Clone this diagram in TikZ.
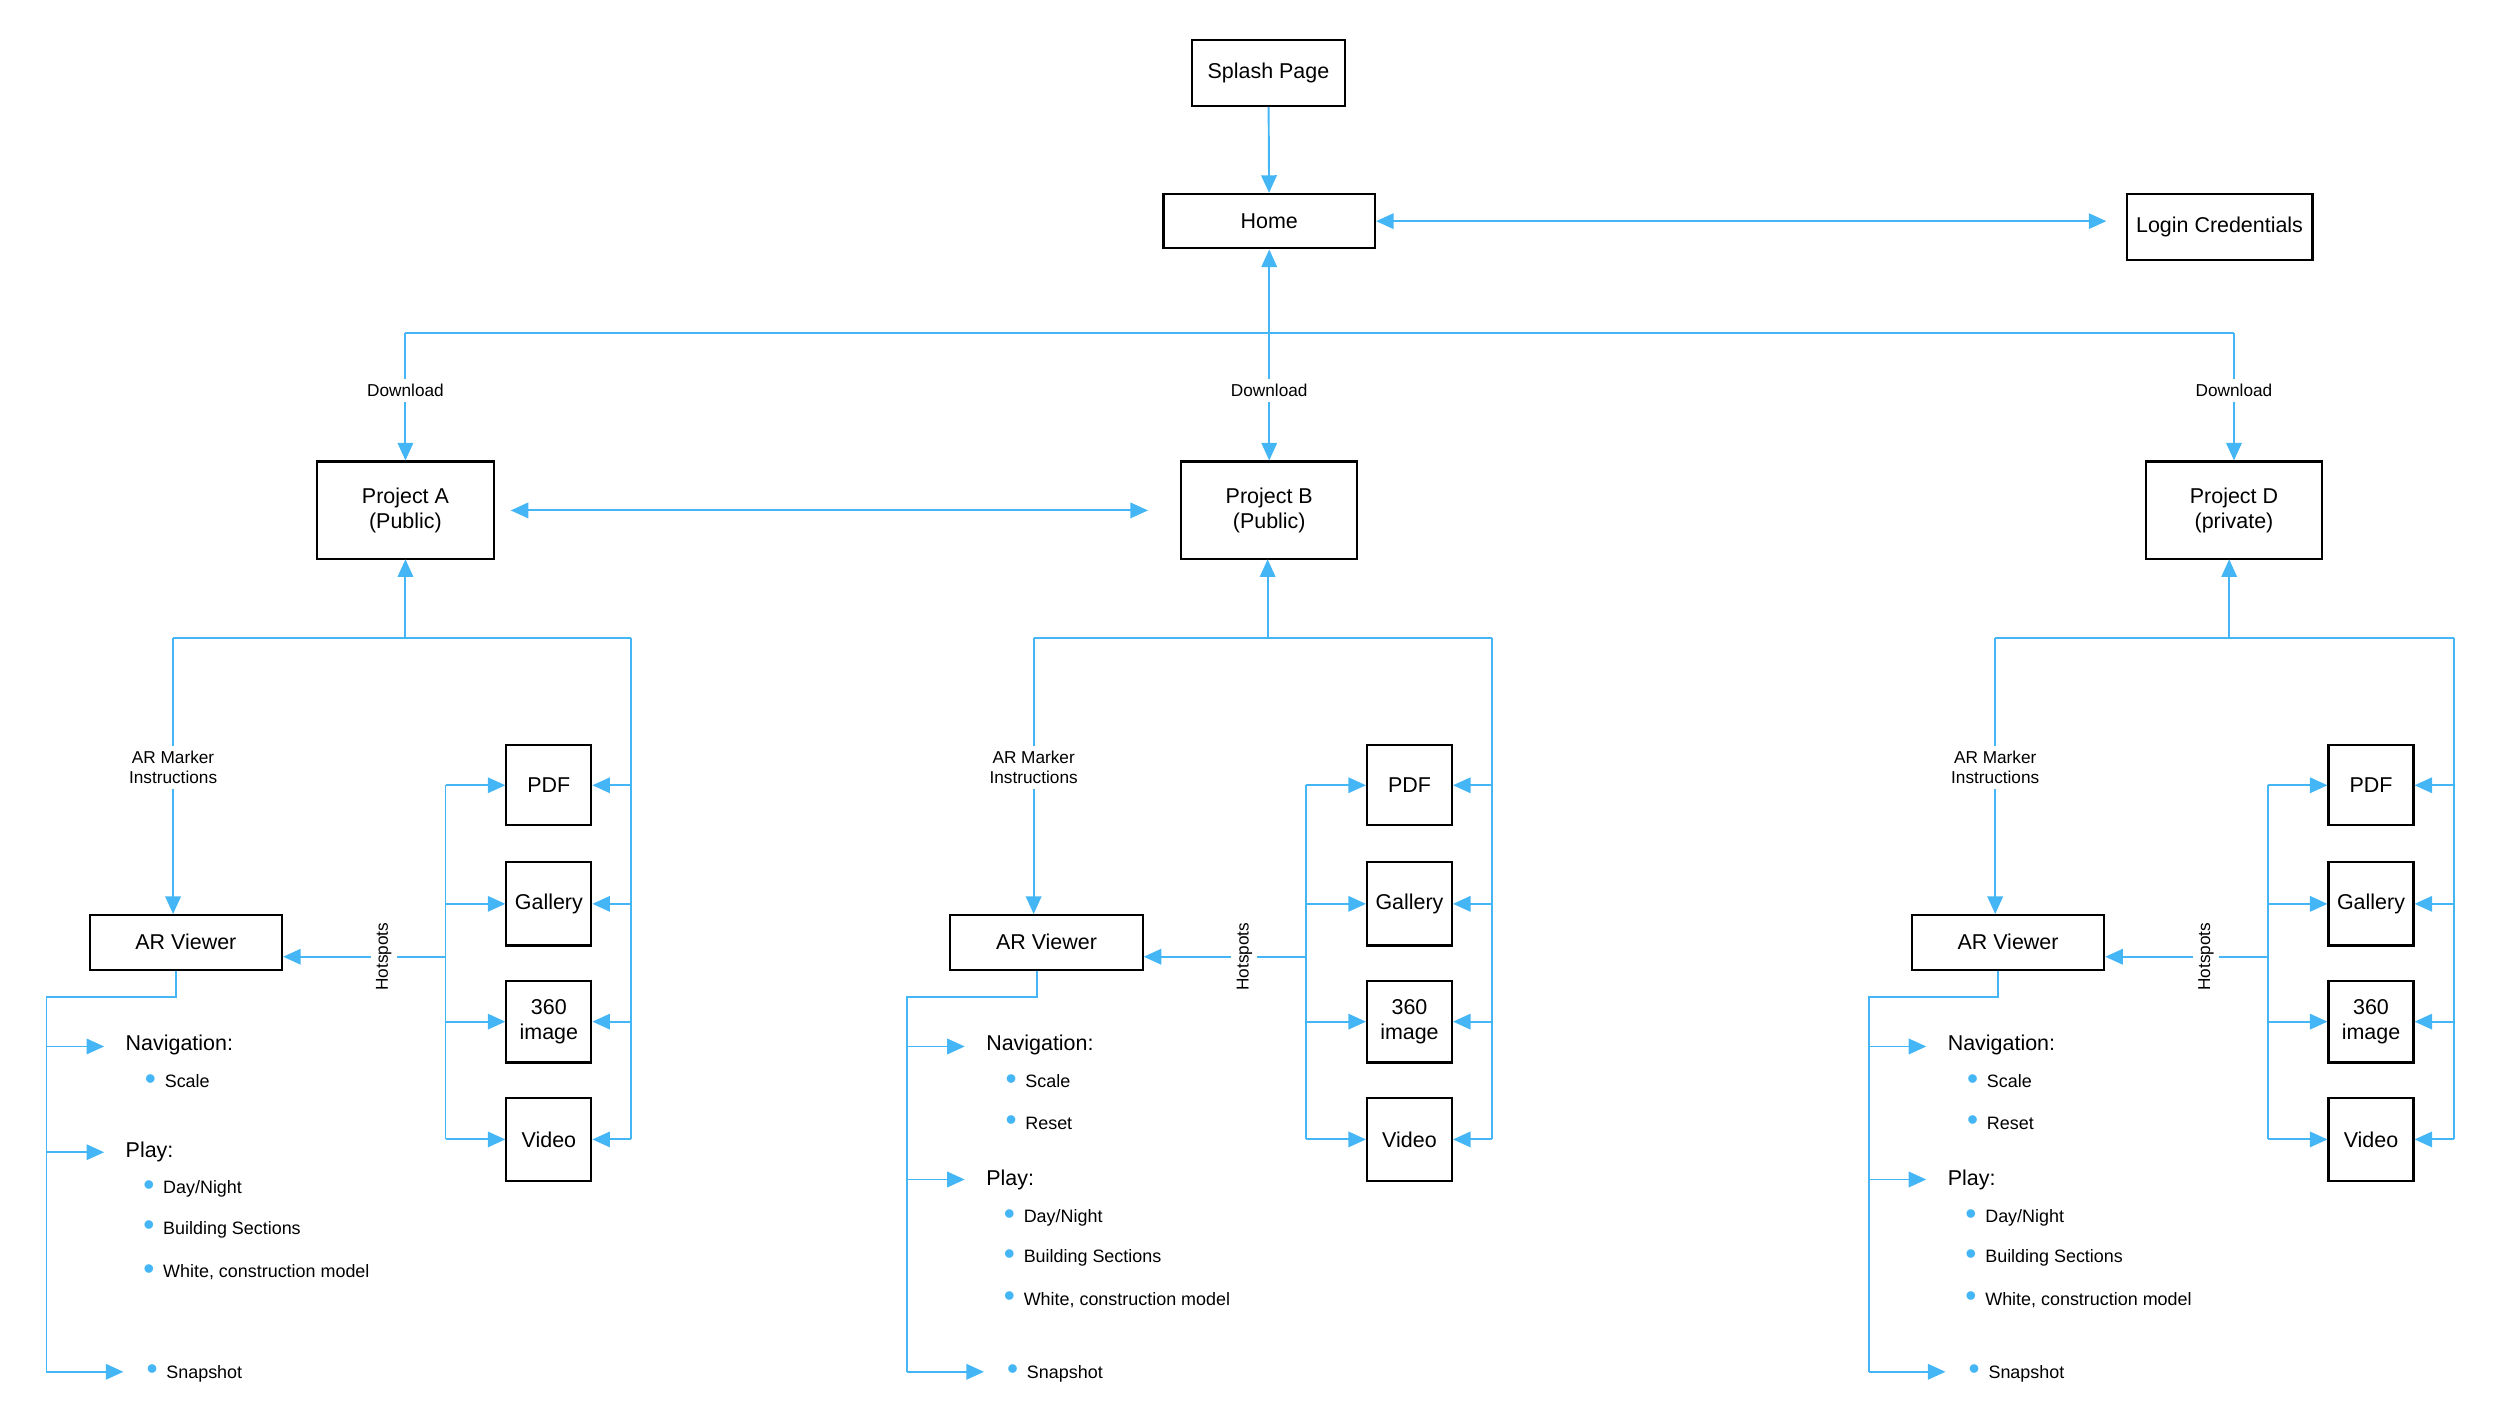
\documentclass[tikz,border=0pt]{standalone}
\usepackage{fontspec}
\setmainfont{Liberation Sans}
\usetikzlibrary{arrows.meta}
\definecolor{arblue}{HTML}{45B6F5}
\newcommand\pxl{0.016026cm}
\newcommand\bul{\raisebox{-0.4pt}{\color{arblue}\fontsize{9}{9}\selectfont\textbullet}\hspace{2.5pt}}

\tikzset{
  box/.style={draw=black, line width=0.6pt, align=center, inner sep=0pt, font=\fontsize{6.1}{7.3}\selectfont},
  link/.style={draw=arblue, line width=0.55pt, -{Triangle[length=5pt,width=4.4pt]}},
  dlink/.style={link, {Triangle[length=5pt,width=4.4pt]}-{Triangle[length=5pt,width=4.4pt]}},
  line/.style={draw=arblue, line width=0.55pt},
  lbl/.style={fill=white, inner sep=1.5pt, align=center, font=\fontsize{4.9}{5.6}\selectfont},
  head/.style={anchor=west, inner sep=0pt, font=\fontsize{6.1}{7}\selectfont},
  item/.style={anchor=west, inner sep=0pt, font=\fontsize{5.1}{6}\selectfont}
}

% viewer, media boxes and their connectors for one project
\newcommand\argroup[3]{%
  \begin{scope}[shift={(#2,0)}]
    \node[box, minimum width={120*\pxl}, minimum height={34*\pxl}] (#1view) at (116,588) {AR Viewer};
    \node[box, minimum width={53*\pxl}, minimum height={50*\pxl}] (#1pdf) at (342.5,490) {PDF};
    \node[box, minimum width={53*\pxl}, minimum height={52*\pxl}] (#1gal) at (342.5,564) {Gallery};
    \node[box, minimum width={53*\pxl}, minimum height={51*\pxl}] (#1img) at (342.5,637.5) {360\\image};
    \node[box, minimum width={53*\pxl}, minimum height={52*\pxl}] (#1vid) at (342.5,711) {Video};
    \coordinate (#1bus) at (#3,398);
    \coordinate (#1left) at (108,398);
    \coordinate (#1right) at (394,398);
    \coordinate (#1hot) at (278,597);
    \coordinate (#1trunk) at (29,622);
    % up to the project
    \draw[line] (#1left) -- (#1right);
    \draw[link] (#1bus) -- (#1bus |- 0,349);
    \draw[link] (#1left) -- node[lbl, pos=0.47] {AR Marker\\Instructions} (#1view.north -| #1left);
    \draw[line] (#1right) -- (394,711);
    \foreach \m in {pdf,gal,img,vid}
      \draw[link] (#1right |- #1\m) -- (#1\m.east);
    % hotspots
    \draw[line] (278,490) -- (278,711);
    \foreach \m in {pdf,gal,img,vid}
      \draw[link] (#1hot |- #1\m) -- (#1\m.west);
    \draw[link] (#1hot) -- node[lbl, rotate=90, pos=0.38] {Hotspots} (#1view.east |- #1hot);
    % viewer functions
    \draw[line] ([xshift={-6*\pxl}]#1view.south) |- (#1trunk) -- (29,856);
  \end{scope}}

\begin{document}
\begin{tikzpicture}[x=\pxl, y=-\pxl]
\useasboundingbox (0,0) rectangle (1560,887.3);

\node[box, minimum width={95*\pxl}, minimum height={41*\pxl}] (splash) at (791.5,45.5) {Splash Page};
\node[box, minimum width={132*\pxl}, minimum height={34*\pxl}] (home) at (792,138) {Home};
\node[box, minimum width={116*\pxl}, minimum height={41*\pxl}] (login) at (1385,141.5) {Login Credentials};
\node[box, minimum width={110*\pxl}, minimum height={61*\pxl}] (projA) at (253,318.5) {Project A\\(Public)};
\node[box, minimum width={110*\pxl}, minimum height={61*\pxl}] (projB) at (792,318.5) {Project B\\(Public)};
\node[box, minimum width={110*\pxl}, minimum height={61*\pxl}] (projD) at (1394,318.5) {Project D\\(private)};

\coordinate (top) at (792,208);
\draw[link] (splash) -- (home);
\draw[dlink] (home.east) -- ([xshift={-12*\pxl}]login.west |- home);
\draw[line] (253,208) -- (1394,208);
\draw[link] (top) -- (home.south);
\draw[link] (253,208) -- node[lbl, pos=0.45] {Download} (projA.north);
\draw[link] (top) -- node[lbl, pos=0.45] {Download} (projB.north);
\draw[link] (1394,208) -- node[lbl, pos=0.45] {Download} (projD.north);
\draw[dlink] ([xshift={10*\pxl}]projA.east) -- ([xshift={-20*\pxl}]projB.west);

\argroup{a}{0}{253}
\argroup{b}{537}{254}
\argroup{d}{1137}{254}

% items, project A
\node[head] (anav) at (78,652) {Navigation:};
\node[item] at (90,675) {\bul Scale};
\node[head] (aplay) at (78,719) {Play:};
\node[item] at (89,742) {\bul Day/Night};
\node[item] at (89,767) {\bul Building Sections};
\node[item] at (89,794) {\bul White, construction model};
\node[item] (asnap) at (91,857) {\bul Snapshot};
\draw[link] (29,653) -- (65,653);
\draw[link] (29,719) -- (65,719);
\draw[link] (29,856) -- ([xshift={-14*\pxl}]asnap.west |- 0,856);

% items, projects B and D
\foreach \p/\dx in {b/537,d/1137} {
  \begin{scope}[shift={(\dx,0)}]
    \node[head] (\p nav) at (78,652) {Navigation:};
    \node[item] at (90,675) {\bul Scale};
    \node[item] at (90,701) {\bul Reset};
    \node[head] (\p play) at (78,736) {Play:};
    \node[item] at (89,760) {\bul Day/Night};
    \node[item] at (89,785) {\bul Building Sections};
    \node[item] at (89,811) {\bul White, construction model};
    \node[item] (\p snap) at (91,857) {\bul Snapshot};
    \draw[link] (29,653) -- (65,653);
    \draw[link] (29,736) -- (65,736);
    \draw[link] (29,856) -- (77,856);
  \end{scope}
}
\end{tikzpicture}
\end{document}
